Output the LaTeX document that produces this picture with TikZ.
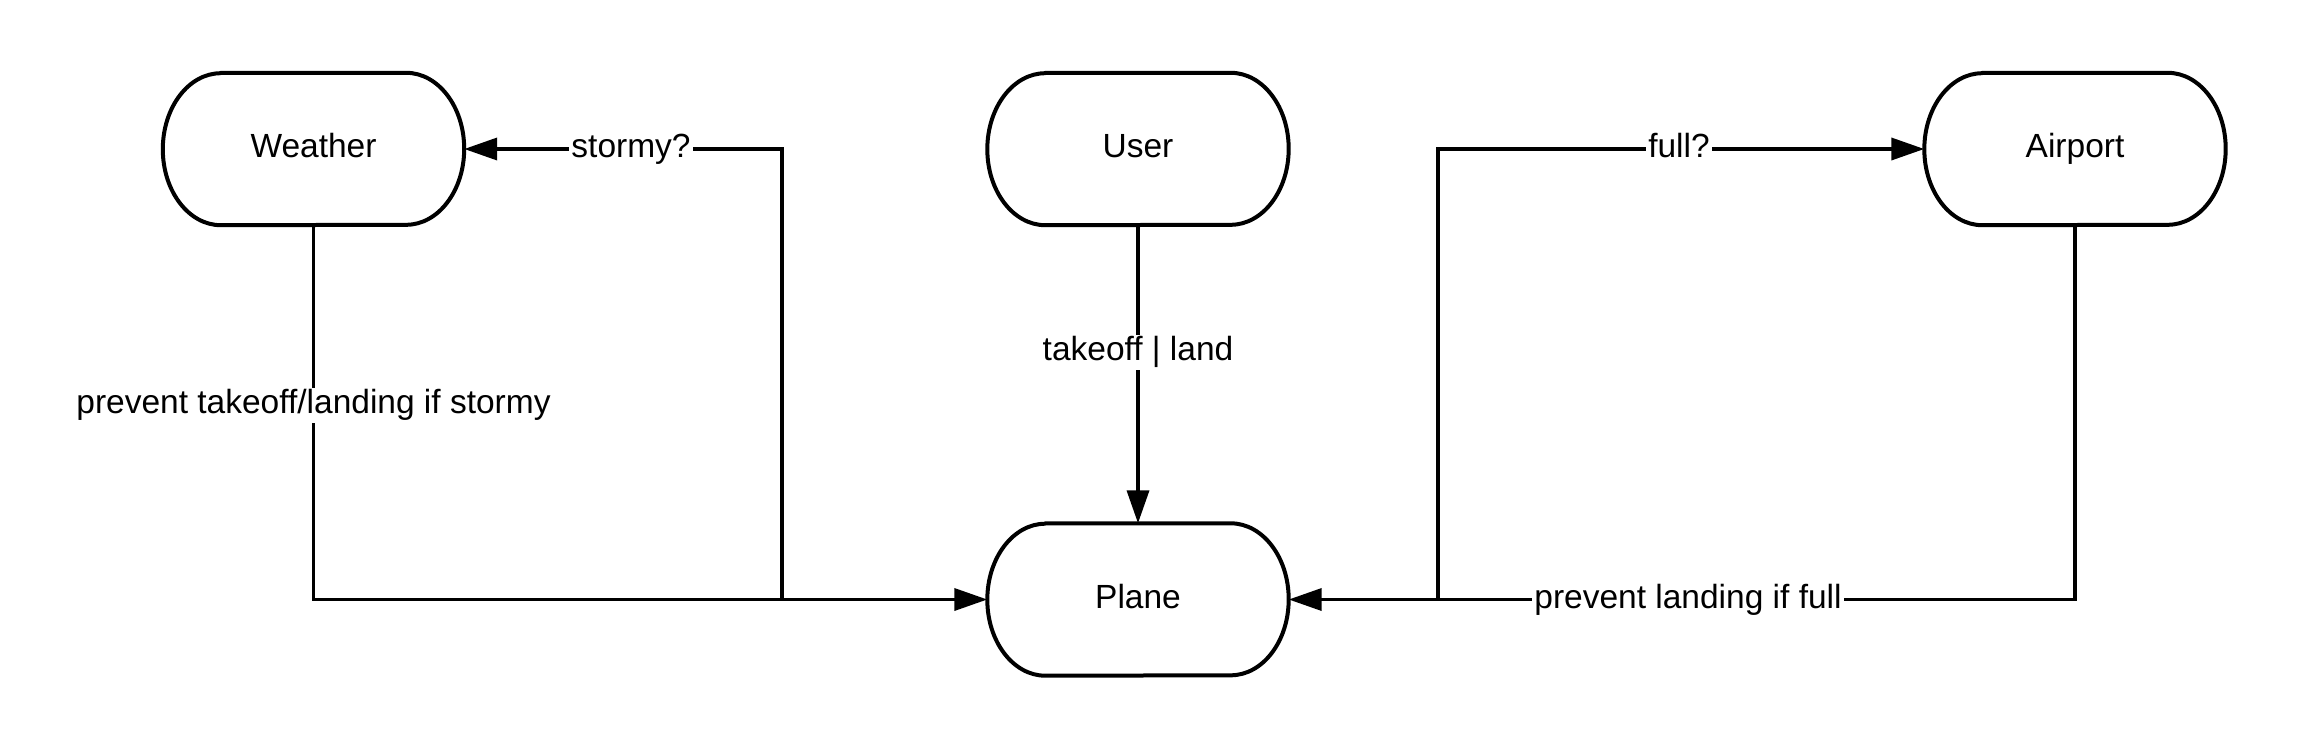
\documentclass[tikz,border=0pt]{standalone}
\usepackage{fontspec}
\setmainfont{Liberation Sans}
\usetikzlibrary{arrows.meta}
\newcommand\termoutline[1]{%
  \draw[outline] ([xshift=58pt]#1.north west) -- ([xshift=-58pt]#1.north east)
    arc[start angle=90,end angle=-90,x radius=58pt,y radius=76pt]
    -- ([xshift=58pt]#1.south west)
    arc[start angle=270,end angle=90,x radius=58pt,y radius=76pt] -- cycle;}
\tikzset{
  term/.style={draw=none,minimum width=301pt,minimum height=152pt,inner sep=0pt,
    text height=24pt,text depth=7pt,font=\fontsize{33.5}{40}\selectfont},
  outline/.style={line width=4pt,line join=round},
  conn/.style={line width=3.6pt,-{Triangle[length=33pt,width=22pt]}},
  lbl/.style={fill=white,inner sep=2pt,text height=24pt,text depth=7pt,font=\fontsize{33.5}{40}\selectfont}
}
\begin{document}
\begin{tikzpicture}[x=1pt,y=1pt]
\useasboundingbox (0,0) rectangle (2301,-750);
\node[term] (weather) at (313.5,-149) {Weather};
\node[term] (user) at (1138,-149) {User};
\node[term] (airport) at (2075,-149) {Airport};
\node[term] (plane) at (1138,-599.5) {Plane};
\termoutline{weather}
\termoutline{user}
\termoutline{airport}
\termoutline{plane}
\coordinate (jl) at (782,-599.5);
\coordinate (jr) at (1438,-599.5);
% weather -> plane
\draw[conn] (weather.south) |- (plane.west);
\node[lbl] (l1) at (313.5,-405) {prevent takeoff/landing if stormy};
% stormy?
\draw[conn] (jl) |- (weather.east);
\node[lbl] (l2) at (631,-149) {stormy?};
% user -> plane
\draw[conn] (user.south) -- (plane.north);
\node[lbl] (l3) at (1138,-352) {takeoff | land};
% airport -> plane
\draw[conn] (airport.south) |- (plane.east);
\node[lbl] (l4) at (1688,-599.5) {prevent landing if full};
% full?
\draw[conn] (jr) |- (airport.west);
\node[lbl] (l5) at (1679,-149) {full?};
\end{tikzpicture}
\end{document}
